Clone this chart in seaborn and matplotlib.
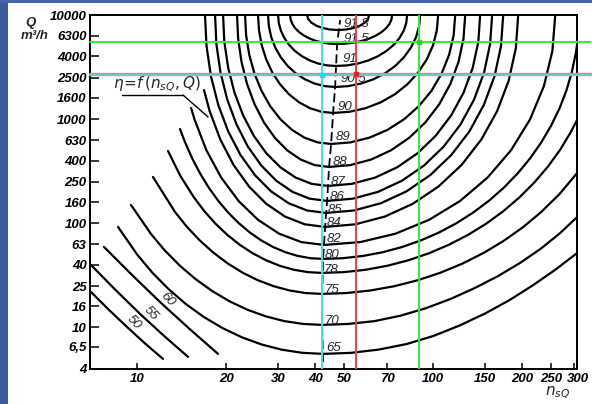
import matplotlib
matplotlib.use("Agg")
import matplotlib.pyplot as plt
import matplotlib.transforms as mtransforms
import numpy as np
import pandas as pd
import seaborn as sns
from matplotlib.patches import Rectangle

# ---------------- data (n_sQ , Q in m3/h) ----------------
n_918 = [37.53, 37.85, 38.76, 40.28, 42.33, 44.87, 47.76, 50.84, 53.89, 56.63, 58.87, 60.29, 60.79]
q_918 = [10000, 9177, 8472, 7910, 7505, 7259, 7178, 7259, 7505, 7910, 8472, 9177, 10000]

n_915 = [32.88, 33.03, 33.47, 34.21, 35.26, 36.60, 38.23, 40.14, 42.32, 44.76, 47.39,
         50.68, 54.09, 57.57, 60.94, 64.14, 66.99, 69.37, 71.18, 72.31, 72.69]
q_915 = [10000, 9047, 8204, 7476, 6861, 6357, 5955, 5649, 5437, 5310, 5269,
         5310, 5437, 5649, 5955, 6357, 6861, 7476, 8204, 9047, 10000]

n_910 = [29.95, 30.12, 30.62, 31.47, 32.64, 34.18, 36.07, 38.32, 40.91, 43.82, 47.02,
         51.27, 55.76, 60.43, 65.06, 69.48, 73.51, 76.93, 79.52, 81.13, 81.70]
q_910 = [10000, 8385, 7060, 5995, 5156, 4507, 4019, 3664, 3423, 3285, 3241,
         3285, 3423, 3664, 4019, 4507, 5156, 5995, 7060, 8385, 10000]

n_905 = [27.70, 27.88, 28.41, 29.32, 30.60, 32.27, 34.33, 36.82, 39.71, 43.00, 46.65,
         51.74, 57.23, 63.00, 68.82, 74.47, 79.65, 84.10, 87.53, 89.66, 90.39]
q_905 = [10000, 7796, 6116, 4856, 3924, 3246, 2760, 2423, 2202, 2077, 2037,
         2077, 2202, 2423, 2760, 3246, 3924, 4856, 6116, 7796, 10000]

n_900 = [25.63, 25.82, 26.38, 27.32, 28.65, 30.41, 32.61, 35.26, 38.36, 41.94, 45.94,
         52.21, 59.13, 66.56, 74.25, 81.85, 88.97, 95.11, 99.91, 102.9, 103.97]
q_900 = [10000, 7126, 5122, 3741, 2800, 2163, 1734, 1452, 1275, 1178, 1147,
         1178, 1275, 1452, 1734, 2163, 2800, 3741, 5122, 7126, 10000]

n_890 = [23.17, 23.36, 23.94, 24.93, 26.33, 28.18, 30.52, 33.38, 36.78, 40.74, 45.23,
         52.60, 60.93, 70.07, 79.72, 89.45, 98.70, 106.8, 113.2, 117.3, 118.7]
q_890 = [10000, 6403, 4145, 2742, 1872, 1332, 996.6, 788.9, 664.5, 598.8, 578.1,
         598.8, 664.5, 788.9, 996.6, 1332, 1872, 2742, 4145, 6403, 10000]

n_880 = [21.77, 21.96, 22.54, 23.53, 24.96, 26.84, 29.23, 32.17, 35.69, 39.81, 44.53,
         52.55, 61.75, 71.97, 82.93, 94.08, 104.8, 114.3, 121.8, 126.6, 128.3]
q_880 = [10000, 5914, 3542, 2177, 1388, 930.2, 660.6, 501.6, 409.8, 362.4, 347.8,
         362.4, 409.8, 501.6, 660.6, 930.2, 1388, 2177, 3542, 5914, 10000]

n_870 = [19.53, 19.72, 20.32, 21.34, 22.83, 24.81, 27.34, 30.50, 34.33, 38.89, 44.19,
         53.17, 63.68, 75.57, 88.53, 101.9, 115.0, 126.7, 136.0, 142.1, 144.1]
q_870 = [10000, 5537, 3111, 1798, 1085, 691.1, 470.3, 345.0, 274.9, 239.4, 228.5,
         239.4, 274.9, 345.0, 470.3, 691.1, 1085, 1798, 3111, 5537, 10000]

n_860 = [18.35, 18.54, 19.14, 20.17, 21.67, 23.67, 26.27, 29.52, 33.50, 38.26, 43.84,
         53.60, 65.18, 78.52, 93.22, 108.6, 123.8, 137.5, 148.6, 155.7, 158.2]
q_860 = [10000, 5258, 2808, 1547, 892.9, 546.7, 359.7, 256.8, 200.6, 172.6, 164.1,
         172.6, 200.6, 256.8, 359.7, 546.7, 892.9, 1547, 2808, 5258, 10000]

n_850 = [16.97, 17.17, 17.77, 18.81, 20.32, 22.36, 25.02, 28.37, 32.52, 37.55, 43.50,
         53.95, 66.57, 81.28, 97.72, 115.2, 132.6, 148.3, 161.2, 169.5, 172.4]
q_850 = [10000, 5044, 2587, 1372, 764.1, 453.4, 290.2, 202.7, 155.9, 132.8, 125.8,
         132.8, 155.9, 202.7, 290.2, 453.4, 764.1, 1372, 2587, 5044, 10000]

n_840 = [16.83, 17.60, 19.12, 21.18, 23.88, 27.33, 31.62, 36.87, 43.16,
         54.59, 68.64, 85.32, 104.3, 124.8, 145.4, 164.4, 180.0, 190.2, 193.7]
q_840 = [1906, 1192, 637.1, 364.2, 226.0, 153.9, 116.1, 97.84, 92.37,
         97.84, 116.1, 153.9, 226.0, 364.2, 637.1, 1192, 2351, 4807, 10000]

n_820 = [15.23, 15.64, 17.15, 19.25, 22.04, 25.63, 30.20, 35.89, 42.84,
         56.75, 74.63, 96.85, 123.2, 152.6, 183.3, 212.4, 236.6, 252.7, 258.4]
q_820 = [1281, 995.2, 504.1, 274.9, 163.8, 108.0, 79.54, 66.06, 62.04,
         66.06, 79.54, 108.0, 163.8, 274.9, 504.1, 995.2, 2080, 4516, 10000]

n_800 = [13.97, 14.54, 15.36, 16.33, 17.46, 18.77, 20.29, 22.03, 24.01, 26.26, 28.81,
         31.69, 34.91, 38.51, 42.50,
         49.68, 58.02, 67.63, 78.57, 91.0, 104.9, 120.2, 136.8, 154.7, 173.5, 192.9,
         212.5, 231.7, 250.1, 267.1, 281.9, 294.0, 303.2, 306.7]
q_800 = [805.4, 597.8, 420.3, 301.6, 220.9, 165.7, 127.5, 100.8, 81.93, 68.64, 59.26,
         52.84, 48.66, 46.29, 45.53,
         46.29, 48.66, 52.84, 59.26, 68.64, 81.93, 100.8, 127.5, 165.7, 220.9, 301.6,
         420.3, 597.8, 864.8, 1270, 1890, 2841, 4303, 5385]

n_780 = [12.73, 13.99, 15.57, 16.88, 18.41, 20.19, 22.24, 24.59, 27.28, 30.35, 33.83,
         37.76, 42.17,
         50.00, 59.22, 69.98, 82.48, 96.76, 112.9, 131.1, 151.1, 172.7, 195.6, 219.6,
         244.1, 268.4, 291.6, 306.2]
q_780 = [495.3, 287.5, 177.5, 131.0, 99.29, 77.43, 62.22, 51.58, 44.18, 39.12, 35.85,
         34.01, 33.42,
         34.01, 35.85, 39.12, 44.18, 51.58, 62.22, 77.43, 99.29, 131.0, 177.5, 246.7,
         350.4, 508.6, 751.4, 982.4]

n_750 = [11.32, 13.46, 14.77, 16.32, 18.14, 20.26, 22.73, 25.60, 28.93, 32.76, 37.15, 42.17,
         50.93, 61.45, 73.96, 88.72, 105.9, 125.8, 148.3, 173.5, 201.3, 231.2, 266.6, 306.5]
q_750 = [278.9, 127.8, 92.05, 68.22, 52.13, 41.15, 33.60, 28.41, 24.92, 22.67, 21.41, 21.01,
         21.41, 22.67, 24.92, 28.41, 33.60, 41.15, 52.13, 68.22, 92.05, 127.8, 190.0, 304.5]

n_700 = [9.544, 11.16, 12.43, 13.96, 15.79, 17.96, 20.53, 23.59, 27.19, 31.43, 36.39, 42.17,
         51.78, 63.46, 77.66, 94.62, 114.7, 138.2, 165.4, 196.2, 230.5, 268.0, 306.6]
q_700 = [150.2, 78.78, 54.67, 39.19, 29.07, 22.36, 17.85, 14.81, 12.80, 11.52, 10.82, 10.59,
         10.82, 11.52, 12.99, 15.33, 18.83, 23.93, 31.10, 41.54, 56.86, 80.4, 115.2]

n_650 = [8.629, 10.02, 11.27, 12.79, 14.61, 16.81, 19.45, 22.61, 26.38, 30.88, 36.22, 42.50,
         52.84, 65.61, 81.22, 100.2, 122.9, 149.8, 181.2, 217.2, 257.6, 306.7]
q_650 = [92.32, 50.06, 33.58, 23.33, 16.83, 12.62, 9.867, 8.048, 6.861, 6.117, 5.710, 5.580,
         5.710, 6.14, 6.93, 8.29, 10.46, 13.63, 18.34, 25.43, 35.6, 51.98]

n_600 = [7.737, 9.618, 12.05, 15.11, 18.77]
q_600 = [59.35, 31.97, 17.22, 9.590, 5.58]

n_550 = [6.99, 8.428, 10.24, 12.34, 14.87]
q_550 = [39.9, 23.21, 13.50, 8.307, 5.223]

n_500 = [6.99, 8.043, 9.25, 10.64, 12.24]
q_500 = [21.96, 14.75, 10.13, 7.036, 4.996]

# locus of best efficiency (dashed)
locus_n = [42.50, 42.17, 42.17, 42.50, 43.17, 43.85, 44.53, 45.23, 45.95, 46.66, 47.02, 47.39, 48.52]
locus_q = [4.676, 10.36, 20.55, 45.5, 92.4, 164, 348, 578, 1147, 2037, 3240, 5269, 8954]

# contour labels
level_labels = ["91,8", "91,5", "91", "90,5", "90", "89", "88", "87", "86", "85",
                "84", "82", "80", "78", "75", "70", "65"]
low_labels = ["60", "55", "50"]

# axis ticks
x_ticks = [10, 20, 30, 40, 50, 70, 100, 150, 200, 250, 300]
x_tick_labels = ["10", "20", "30", "40", "50", "70", "100", "150", "200", "250", "300"]
y_ticks = [10000, 6300, 4000, 2500, 1600, 1000, 630, 400, 250, 160, 100, 63, 40, 25, 16, 10, 6.5, 4]
y_tick_labels = ["10000", "6300", "4000", "2500", "1600", "1000", "630", "400", "250", "160",
                 "100", "63", "40", "25", "16", "10", "6,5", "4"]

# coloured marker lines (n_sQ and Q values)
ref_n = [42.3, 55.0, 89.5]          # cyan, red, green verticals
ref_q = [2630, 2745, 5500]          # cyan, red, green horizontals

# ---------------- build the long table ----------------
curve_list = [
    ("91,8", n_918, q_918), ("91,5", n_915, q_915), ("91", n_910, q_910),
    ("90,5", n_905, q_905), ("90", n_900, q_900), ("89", n_890, q_890),
    ("88", n_880, q_880), ("87", n_870, q_870), ("86", n_860, q_860),
    ("85", n_850, q_850), ("84", n_840, q_840), ("82", n_820, q_820),
    ("80", n_800, q_800), ("78", n_780, q_780), ("75", n_750, q_750),
    ("70", n_700, q_700), ("65", n_650, q_650), ("60", n_600, q_600),
    ("55", n_550, q_550), ("50", n_500, q_500),
]
rows = []
for lab, ns, qs in curve_list:
    for i, (a, b) in enumerate(zip(ns, qs)):
        rows.append((lab, i, a, b))
df = pd.DataFrame(rows, columns=["level", "i", "n", "Q"])

# ---------------- figure ----------------
sns.set_theme(style="ticks")
plt.rcParams["font.family"] = ["Liberation Sans", "DejaVu Sans"]
plt.rcParams["mathtext.fontset"] = "dejavusans"

W, H = 592, 404
fig = plt.figure(figsize=(W / 100, H / 100), dpi=100)
fig.patch.set_facecolor("white")
ax = fig.add_axes([90 / W, 1 - 369 / H, 487 / W, 354 / H])
ax.set_facecolor("white")
ax.set_xscale("log")
ax.set_yscale("log")

sns.lineplot(data=df, x="n", y="Q", units="level", estimator=None, sort=False,
             color="black", linewidth=1.6, legend=False, ax=ax,
             solid_joinstyle="round", solid_capstyle="round", zorder=3)

ax.plot(locus_n, locus_q, color="black", linewidth=1.3, linestyle=(0, (5, 2.2)), zorder=3)

ax.set_xlim(6.94, 306)
ax.set_ylim(3.995, 10005)
ax.set_xticks(x_ticks)
ax.set_xticklabels(x_tick_labels)
ax.set_yticks(y_ticks)
ax.set_yticklabels(y_tick_labels)
ax.minorticks_off()
ax.set_xlabel("")
ax.set_ylabel("")

for sp in ax.spines.values():
    sp.set_visible(True)
    sp.set_color("black")
    sp.set_linewidth(1.4)

ax.tick_params(axis="y", direction="in", length=6.5, width=1.1, pad=2.5, labelsize=9.5,
               colors="black", left=True)
ax.tick_params(axis="x", direction="in", length=4, width=1.1, pad=3, labelsize=9.5,
               colors="black", bottom=True)
for t in ax.get_xticklabels() + ax.get_yticklabels():
    t.set_fontstyle("italic")
    t.set_fontweight("bold")
last = ax.get_xticklabels()[-1]
last.set_transform(last.get_transform() + mtransforms.ScaledTranslation(0.04, 0, fig.dpi_scale_trans))

# contour value labels along the locus
lab_n = [49.66, 49.66, 49.27, 48.52, 47.39, 47.02, 45.95, 45.23, 44.88, 44.19,
         43.85, 43.85, 43.17, 42.84, 43.17, 43.17, 43.51]
lab_q = [8380, 6017, 3782, 2431, 1310, 674.9, 388.4, 249.6, 179.2, 134.5,
         100.9, 70.84, 49.74, 35.71, 22.95, 11.57, 6.37]
for s, xn, yq in zip(level_labels, lab_n, lab_q):
    ax.text(xn, yq, s, ha="left", va="center", fontsize=9.5, fontstyle="italic", zorder=4)

low_n = [12.63, 11.15, 9.77]
low_q = [18.81, 13.81, 11.32]
for s, xn, yq in zip(low_labels, low_n, low_q):
    ax.text(xn, yq, s, ha="center", va="center", fontsize=9.5, fontstyle="italic",
            rotation=-47, rotation_mode="anchor", zorder=4)

# formula annotation
ax.text(11.68, 2177, r"$\eta\!=\!f\,(n_{sQ},Q)$", ha="center", va="center", fontsize=11, zorder=4)
ax.plot([8.90, 14.30], [1707, 1707], color="black", linewidth=1.0, zorder=3)
ax.plot([14.30, 17.38], [1707, 1050], color="black", linewidth=1.0, zorder=3)

# coloured reference lines
ax.axhline(ref_q[1], xmin=0, xmax=1.027, color="#f27a7a", linewidth=2.4, clip_on=False, zorder=5)
ax.axhline(ref_q[0], xmin=0, xmax=1.027, color="#3fe3f2", linewidth=1.1, clip_on=False, zorder=5)
ax.axhline(ref_q[2], xmin=0, xmax=1.027, color="#2ff02f", linewidth=1.4, clip_on=False, zorder=5)
ax.axvline(ref_n[0], color="#3fe3f2", linewidth=1.4, zorder=5)
ax.axvline(ref_n[1], color="#ff3b3b", linewidth=1.4, zorder=5)
ax.axvline(ref_n[2], color="#2ff02f", linewidth=1.4, zorder=5)
ax.plot([ref_n[2]], [ref_q[2]], marker="s", markersize=3.2, color="#1ed81e", zorder=6)
ax.plot([ref_n[1]], [ref_q[1]], marker="s", markersize=3.2, color="#ff1a1a", zorder=6)
ax.plot([ref_n[0]], [ref_q[0]], marker="s", markersize=3.0, color="#20d8f0", zorder=6)

# axis titles
fig.text(30 / W, 1 - 23 / H, "Q", ha="center", va="center", fontsize=9.5,
         fontstyle="italic", fontweight="bold")
fig.text(35 / W, 1 - 36 / H, "m³/h", ha="center", va="center", fontsize=9.5,
         fontstyle="italic", fontweight="bold")
fig.text(558 / W, 1 - 393 / H, r"$n_{sQ}$", ha="center", va="center", fontsize=11)

# blue frame strips
fig.add_artist(Rectangle((0, 0), 8 / W, 1, transform=fig.transFigure,
                         facecolor="#3b5a9e", edgecolor="none", zorder=0))
fig.add_artist(Rectangle((0, 1 - 3 / H), 1, 3 / H, transform=fig.transFigure,
                         facecolor="#4464a8", edgecolor="none", zorder=0))

fig.savefig("out.png", dpi=100)
